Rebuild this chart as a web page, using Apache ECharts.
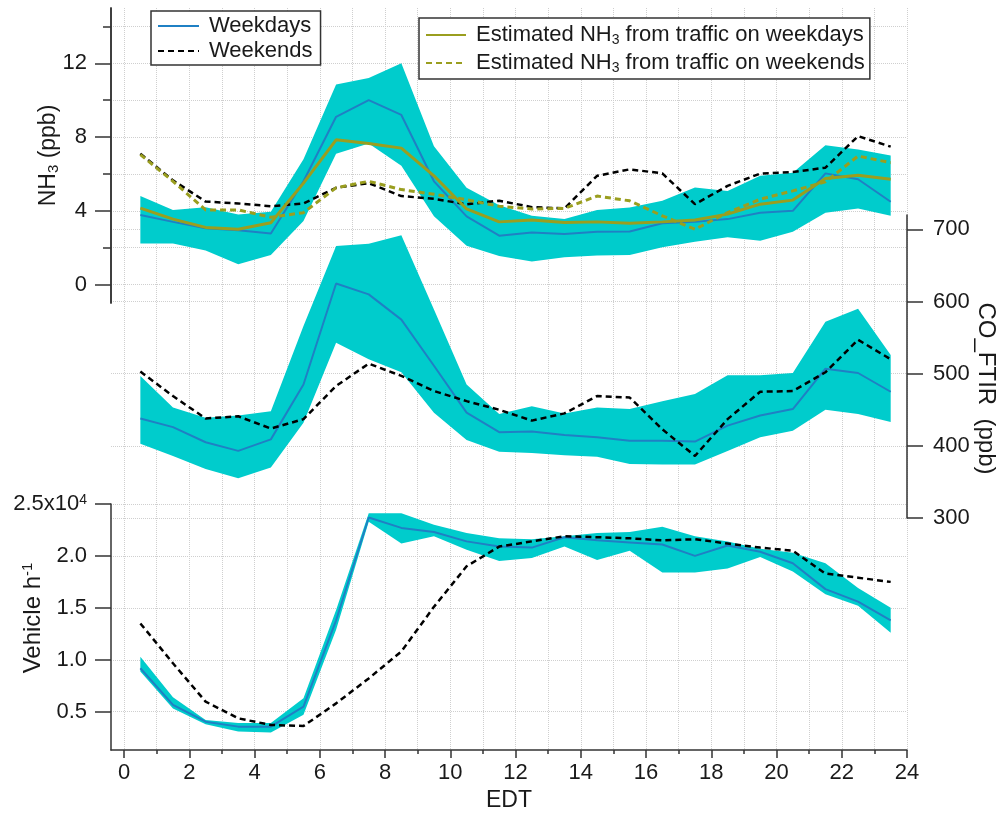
<!DOCTYPE html>
<html>
<head>
<meta charset="utf-8">
<script src="https://cdn.jsdelivr.net/npm/echarts@6/dist/echarts.min.js"></script>
<style>
  html, body { margin: 0; padding: 0; background: #fff; }
  #chart { width: 1005px; height: 816px; }
</style>
</head>
<body>
<div id="chart"></div>
<script>
// hour of day (EDT), bin centres
var hours = [0.5, 1.5, 2.5, 3.5, 4.5, 5.5, 6.5, 7.5, 8.5, 9.5, 10.5, 11.5,
             12.5, 13.5, 14.5, 15.5, 16.5, 17.5, 18.5, 19.5, 20.5, 21.5, 22.5, 23.5];

// NH3 (ppb)
var nh3Weekday = [3.77, 3.4, 3.05, 2.95, 2.77, 5.6, 9.1, 10.0, 9.2, 5.6, 3.7, 2.65,
                  2.83, 2.74, 2.86, 2.88, 3.33, 3.4, 3.55, 3.9, 4.0, 6.03, 5.71, 4.49];
var nh3Upper = [4.8, 4.05, 4.2, 3.8, 3.95, 6.8, 10.85, 11.2, 12.0, 7.5, 5.25, 4.3,
                3.73, 3.55, 4.05, 4.18, 4.54, 5.26, 5.08, 5.9, 6.07, 7.55, 7.33, 7.0];
var nh3Lower = [2.23, 2.23, 1.85, 1.1, 1.6, 3.45, 7.1, 7.65, 6.45, 3.7, 2.1, 1.55,
                1.25, 1.48, 1.57, 1.6, 2.02, 2.32, 2.56, 2.38, 2.86, 3.9, 4.13, 3.73];
var nh3Weekend = [7.1, 5.65, 4.5, 4.4, 4.25, 4.4, 5.25, 5.5, 4.8, 4.65, 4.35, 4.55,
                  4.2, 4.13, 5.9, 6.25, 6.03, 4.36, 5.35, 6.02, 6.1, 6.34, 8.05, 7.48];
var nh3EstWeekday = [4.15, 3.55, 3.1, 3.0, 3.35, 5.5, 7.85, 7.65, 7.4, 5.9, 4.1, 3.4,
                     3.5, 3.37, 3.4, 3.33, 3.4, 3.5, 3.82, 4.36, 4.58, 5.75, 5.93, 5.71];
var nh3EstWeekend = [7.05, 5.6, 4.05, 4.05, 3.65, 3.9, 5.25, 5.6, 5.15, 4.9, 4.6, 4.25,
                     4.1, 4.13, 4.8, 4.54, 3.73, 3.0, 3.9, 4.63, 5.08, 5.57, 6.97, 6.61];

// CO_FTIR (ppb)
var coWeekday = [438, 426, 405, 393, 409, 485, 625, 610, 575, 511, 446, 419,
                 420, 415, 412, 407, 407, 406, 428, 442, 451, 507, 501, 475];
var coUpper = [497, 453, 439, 442, 448, 566, 677, 680, 692, 589, 485, 444,
               455, 445, 453, 451, 462, 472, 498, 498, 501, 572, 590, 526];
var coLower = [403, 386, 368, 355, 370, 432, 543, 520, 502, 446, 408, 392,
               390, 387, 385, 375, 374, 374, 393, 412, 421, 450, 444, 433];
var coWeekend = [503, 469, 438, 441, 424, 437, 483, 514, 497, 476, 462, 450,
                 435, 445, 469, 467, 423, 386, 437, 475, 476, 502, 547, 520];

// traffic (x10^4 vehicle per hour)
var vehWeekday = [0.918, 0.565, 0.404, 0.356, 0.356, 0.548, 1.38, 2.37, 2.27, 2.23, 2.14, 2.09,
                  2.08, 2.18, 2.15, 2.13, 2.11, 2.0, 2.10, 2.04, 1.93, 1.68, 1.56, 1.38];
var vehUpper = [1.03, 0.64, 0.42, 0.39, 0.39, 0.63, 1.48, 2.41, 2.41, 2.30, 2.22, 2.17,
                2.16, 2.19, 2.22, 2.23, 2.28, 2.19, 2.14, 2.07, 2.03, 1.93, 1.69, 1.50];
var vehLower = [0.886, 0.53, 0.38, 0.31, 0.30, 0.47, 1.29, 2.33, 2.12, 2.19, 2.06, 1.95,
                1.98, 2.09, 1.96, 2.05, 1.84, 1.84, 1.88, 1.99, 1.85, 1.63, 1.52, 1.26];
var vehWeekend = [1.35, 0.966, 0.597, 0.436, 0.372, 0.362, 0.58, 0.82, 1.08, 1.51, 1.90, 2.09,
                  2.14, 2.19, 2.18, 2.17, 2.15, 2.16, 2.12, 2.08, 2.05, 1.83, 1.79, 1.75];

// ticks
var xMajorTicks = [0, 2, 4, 6, 8, 10, 12, 14, 16, 18, 20, 22, 24];
var xMinorTicks = [1, 3, 5, 7, 9, 11, 13, 15, 17, 19, 21, 23];
var nh3MajorTicks = [0, 4, 8, 12];
var nh3MinorTicks = [2, 6, 10, 14];
var coTicks = [300, 400, 500, 600, 700];
var vehTicks = [0.5, 1.0, 1.5, 2.0, 2.5];

var FONT = 'Liberation Sans';
var AXIS_COLOR = '#333';
var TEXT_COLOR = '#1a1a1a';
var BAND = '#00cccc';
var BLUE = '#1f80c4';
var OLIVE = '#9a9e1f';

function pairs(ys) {
  return hours.map(function (h, i) { return [h, ys[i]]; });
}

var gridLine = { show: true, lineStyle: { color: '#cfcfcf', type: 'dotted', width: 1 } };
var axisLine = { show: true, onZero: false, lineStyle: { color: AXIS_COLOR, width: 1.5 } };
var labelStyle = { fontFamily: FONT, fontSize: 22, color: TEXT_COLOR };

function panelGrid(top, height) {
  var g = { left: 111, right: 98, top: top, outerBoundsMode: 'none', containLabel: false };
  if (height) g.height = height; else g.bottom = 66;
  return g;
}

function hiddenX(grid) {
  return { type: 'value', gridIndex: grid, min: -0.4, max: 24, show: false, axisLine: { onZero: false } };
}

// filled min/max envelope, drawn as one polygon through the axis scales
function bandSeries(xi, yi, up, lo) {
  return {
    type: 'custom', xAxisIndex: xi, yAxisIndex: yi, silent: true, z: 1,
    data: [[hours[0], lo[0]]],
    renderItem: function (params, api) {
      var pts = [];
      var i;
      for (i = 0; i < hours.length; i++) pts.push(api.coord([hours[i], up[i]]));
      for (i = hours.length - 1; i >= 0; i--) pts.push(api.coord([hours[i], lo[i]]));
      return { type: 'polygon', shape: { points: pts }, style: { fill: BAND, stroke: null } };
    }
  };
}

function lineSeries(name, xi, yi, ys, color, width, dashed, z) {
  return {
    type: 'line', name: name, xAxisIndex: xi, yAxisIndex: yi,
    data: pairs(ys), symbol: 'none', z: z,
    lineStyle: { color: color, width: width, type: dashed ? [6, 4] : 'solid' },
    itemStyle: { color: color }
  };
}

var chart = echarts.init(document.getElementById('chart'));

var option = {
  animation: false,
  backgroundColor: '#fff',
  textStyle: { fontFamily: FONT },
  grid: [
    panelGrid(8),
    panelGrid(8, 295),
    panelGrid(215, 303),
    panelGrid(504, 246)
  ],
  xAxis: [
    {
      type: 'value', gridIndex: 0, position: 'bottom', min: -0.4, max: 24,
      axisLine: axisLine,
      axisTick: { show: true, customValues: xMajorTicks, length: 8, lineStyle: { color: AXIS_COLOR, width: 1.5 } },
      axisLabel: Object.assign({ customValues: xMajorTicks, margin: 12 }, labelStyle),
      splitLine: gridLine,
      name: 'EDT', nameLocation: 'middle', nameGap: 39, nameMoveOverlap: false,
      nameTextStyle: { fontFamily: FONT, fontSize: 23, color: TEXT_COLOR }
    },
    {
      type: 'value', gridIndex: 0, position: 'bottom', min: -0.4, max: 24,
      axisLine: { show: false, onZero: false },
      axisTick: { show: true, customValues: xMinorTicks, length: 4, lineStyle: { color: AXIS_COLOR, width: 1.5 } },
      axisLabel: { show: false },
      splitLine: gridLine
    },
    hiddenX(1),
    hiddenX(2),
    hiddenX(3)
  ],
  yAxis: [
    { type: 'value', gridIndex: 0, min: 0, max: 1, show: false, axisLine: { onZero: false } },
    {
      type: 'value', gridIndex: 1, position: 'left', min: -1, max: 15,
      axisLine: axisLine,
      axisTick: { show: true, customValues: nh3MajorTicks, length: 16, lineStyle: { color: AXIS_COLOR, width: 1.5 } },
      axisLabel: Object.assign({ customValues: nh3MajorTicks, margin: 24 }, labelStyle),
      splitLine: gridLine,
      name: 'NH{sub|3} (ppb)', nameLocation: 'middle', nameGap: 50, nameMoveOverlap: false,
      nameTextStyle: {
        fontFamily: FONT, fontSize: 23, lineHeight: 25, color: TEXT_COLOR,
        rich: { sub: { fontFamily: FONT, fontSize: 15, lineHeight: 15, verticalAlign: 'bottom', color: TEXT_COLOR } }
      }
    },
    {
      type: 'value', gridIndex: 1, position: 'left', min: -1, max: 15,
      axisLine: axisLine,
      axisTick: { show: true, customValues: nh3MinorTicks, length: 8, lineStyle: { color: AXIS_COLOR, width: 1.5 } },
      axisLabel: { show: false },
      splitLine: gridLine
    },
    {
      type: 'value', gridIndex: 2, position: 'right', min: 300, max: 720,
      axisLine: axisLine,
      axisTick: { show: true, customValues: coTicks, length: 16, lineStyle: { color: AXIS_COLOR, width: 1.5 } },
      axisLabel: Object.assign({ customValues: coTicks, margin: 26 }, labelStyle),
      splitLine: gridLine,
      name: 'CO_FTIR  (ppb)', nameLocation: 'middle', nameGap: 67, nameRotate: -90, nameMoveOverlap: false,
      nameTextStyle: { fontFamily: FONT, fontSize: 24, color: TEXT_COLOR, padding: [0, 0, 0, 44] }
    },
    {
      type: 'value', gridIndex: 3, position: 'left', min: 0.131, max: 2.5,
      axisLine: axisLine,
      axisTick: { show: true, customValues: vehTicks, length: 16, lineStyle: { color: AXIS_COLOR, width: 1.5 } },
      axisLabel: Object.assign({
        customValues: vehTicks, margin: 24,
        formatter: function (v) { return v === 2.5 ? '2.5x10{sup|4}' : v.toFixed(1); },
        rich: { sup: { fontFamily: FONT, fontSize: 14, lineHeight: 14, verticalAlign: 'top', color: TEXT_COLOR } }
      }, labelStyle),
      splitLine: gridLine,
      name: 'Vehicle h{sup|-1}', nameLocation: 'middle', nameGap: 65, nameMoveOverlap: false,
      nameTextStyle: {
        fontFamily: FONT, fontSize: 24, lineHeight: 26, color: TEXT_COLOR, padding: [0, 0, 0, 18],
        rich: { sup: { fontFamily: FONT, fontSize: 15, lineHeight: 15, verticalAlign: 'top', color: TEXT_COLOR } }
      }
    }
  ],
  legend: [
    {
      data: ['Weekdays', 'Weekends'],
      orient: 'vertical', left: 151, top: 11,
      padding: [4, 8, 3, 6], itemGap: 3, itemWidth: 41, itemHeight: 14,
      borderColor: AXIS_COLOR, borderWidth: 1.5, backgroundColor: '#fff',
      itemStyle: { opacity: 0 },
      textStyle: { fontFamily: FONT, fontSize: 22, lineHeight: 22, color: TEXT_COLOR, padding: [0, 0, 0, 5] }
    },
    {
      data: ['Estimated NH3 from traffic on weekdays', 'Estimated NH3 from traffic on weekends'],
      orient: 'vertical', left: 419, top: 18,
      padding: [5, 5, 4, 6], itemGap: 4, itemWidth: 40, itemHeight: 14,
      borderColor: AXIS_COLOR, borderWidth: 1.5, backgroundColor: '#fff',
      itemStyle: { opacity: 0 },
      formatter: function (name) { return name.replace('NH3', 'NH{sub|3}'); },
      textStyle: {
        fontFamily: FONT, fontSize: 22, lineHeight: 24, color: TEXT_COLOR, padding: [0, 0, 0, 5],
        rich: { sub: { fontFamily: FONT, fontSize: 14, lineHeight: 14, verticalAlign: 'bottom', color: TEXT_COLOR } }
      }
    }
  ],
  series: [
    bandSeries(2, 1, nh3Upper, nh3Lower),
    bandSeries(3, 3, coUpper, coLower),
    bandSeries(4, 4, vehUpper, vehLower),
    lineSeries('Weekdays', 2, 1, nh3Weekday, BLUE, 2, false, 3),
    lineSeries('Weekends', 2, 1, nh3Weekend, '#000', 2.5, true, 4),
    lineSeries('Estimated NH3 from traffic on weekdays', 2, 1, nh3EstWeekday, OLIVE, 3, false, 5),
    lineSeries('Estimated NH3 from traffic on weekends', 2, 1, nh3EstWeekend, OLIVE, 3, true, 5),
    lineSeries('Weekdays', 3, 3, coWeekday, BLUE, 2, false, 3),
    lineSeries('Weekends', 3, 3, coWeekend, '#000', 2.5, true, 4),
    lineSeries('Weekdays', 4, 4, vehWeekday, BLUE, 2, false, 3),
    lineSeries('Weekends', 4, 4, vehWeekend, '#000', 2.5, true, 4)
  ]
};

chart.setOption(option);
</script>
</body>
</html>
